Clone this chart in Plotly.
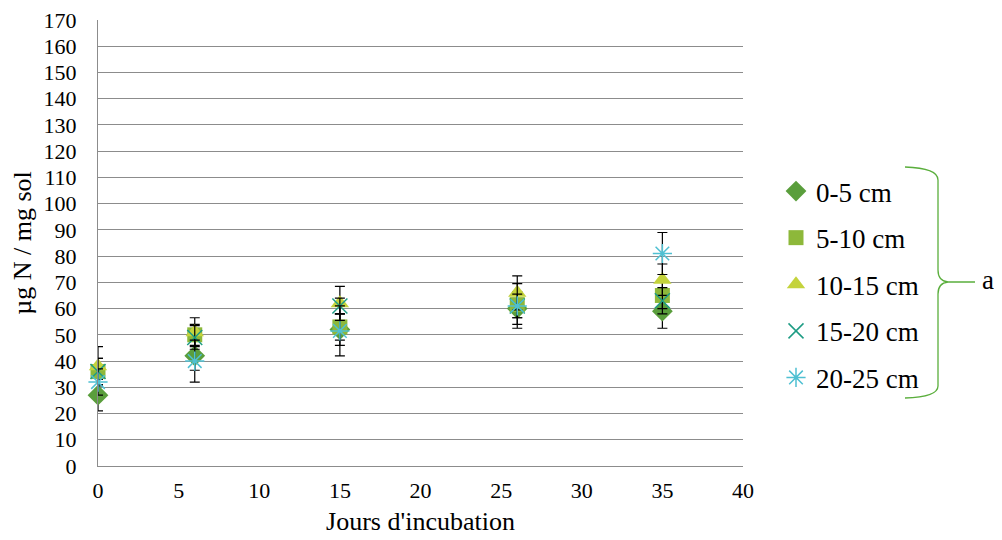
import plotly.graph_objects as go

days = [0, 6, 15, 26, 35]
series_names = ["0-5 cm", "5-10 cm", "10-15 cm", "15-20 cm", "20-25 cm"]
v_0_5 = [27, 42, 52, 60, 59]
v_5_10 = [36, 50, 53, 61.5, 65]
v_10_15 = [38, 51, 62, 66, 71]
v_15_20 = [36, 49, 61, 61, 63]
v_20_25 = [32, 40, 51.5, 61, 81]
e_0_5 = [6, 5.5, 6, 6, 6.5]
e_5_10 = [5, 4, 5, 5, 5]
e_10_15 = [7.5, 5.5, 6.5, 6.5, 6]
e_15_20 = [5, 4.5, 3, 4.5, 5]
e_20_25 = [5, 8, 9.5, 8.5, 8]

values = [v_0_5, v_5_10, v_10_15, v_15_20, v_20_25]
errors = [e_0_5, e_5_10, e_10_15, e_15_20, e_20_25]
symbols = ["diamond", "square", "triangle-up", "x-thin", "asterisk"]
colors = ["#5A9E3C", "#8DB83A", "#C4D33C", "#1E9C84", "#4FC0D2"]
sizes = [16, 15, 16, 15, 16]

FONT = "Liberation Serif, Times New Roman, serif"

fig = go.Figure()
for name, v, e, sym, col, sz in zip(series_names, values, errors, symbols, colors, sizes):
    line_marker = sym in ("x-thin", "asterisk")
    fig.add_trace(go.Scatter(
        x=days, y=v, name=name, mode="markers", legendgroup=name,
        cliponaxis=False,
        marker=dict(symbol=sym, size=sz, color=col,
                    line=dict(color=col, width=1.5 if line_marker else 0)),
        error_y=dict(type="data", array=e, visible=True, color="black",
                     thickness=1.2, width=5),
    ))

# the page body adds an 8px offset around the figure
OFF = 8
W, H = 1002 - OFF, 540 - OFF
L, R, T, B = 98 - OFF, 743 - OFF, 20 - OFF, 466 - OFF

def px(x):
    return (x - OFF - L) / (R - L)

def py(y):
    return (B - (y - OFF)) / (B - T)

brace = (f"M {px(905)} {py(167)} "
         f"Q {px(938)} {py(168)} {px(938)} {py(180)} "
         f"L {px(938)} {py(270)} "
         f"Q {px(938)} {py(281)} {px(948)} {py(282)} "
         f"L {px(975)} {py(282)} "
         f"M {px(948)} {py(282)} "
         f"Q {px(938)} {py(283)} {px(938)} {py(294)} "
         f"L {px(938)} {py(386)} "
         f"Q {px(938)} {py(397)} {px(905)} {py(398)}")

fig.update_layout(
    width=W, height=H,
    margin=dict(l=L, r=W - R, t=T, b=H - B, autoexpand=False),
    plot_bgcolor="white", paper_bgcolor="white",
    font=dict(family=FONT, size=22, color="black"),
    showlegend=True,
    legend=dict(x=px(776), y=py(167), xanchor="left", yanchor="top",
                font=dict(family=FONT, size=27, color="black"),
                tracegroupgap=8.5, itemwidth=30, bgcolor="rgba(0,0,0,0)"),
    xaxis=dict(range=[0, 40], dtick=5, tick0=0, showgrid=False,
               showline=True, linecolor="#8c8c8c", linewidth=1,
               ticks="", zeroline=False, ticklabelstandoff=5,
               ticklabeloverflow="allow",
               tickfont=dict(family=FONT, size=22, color="black"),
               title=dict(text="Jours d'incubation",
                          font=dict(family=FONT, size=26, color="black"), standoff=9)),
    yaxis=dict(range=[0, 170], dtick=10, tick0=0, showgrid=True,
               gridcolor="#8c8c8c", gridwidth=1,
               showline=True, linecolor="#8c8c8c", linewidth=1,
               ticks="", zeroline=False, ticklabelstandoff=16,
               ticklabeloverflow="allow",
               tickfont=dict(family=FONT, size=22, color="black"),
               title=dict(text="µg N / mg sol",
                          font=dict(family=FONT, size=26, color="black"), standoff=8)),
    shapes=[dict(type="path", xref="paper", yref="paper", path=brace,
                 line=dict(color="#5AAE3C", width=1.3))],
    annotations=[dict(text="a", xref="paper", yref="paper", x=px(988), y=py(280),
                      xanchor="center", yanchor="middle", showarrow=False,
                      font=dict(family=FONT, size=27, color="black"))],
)

fig.write_html("out.html")
